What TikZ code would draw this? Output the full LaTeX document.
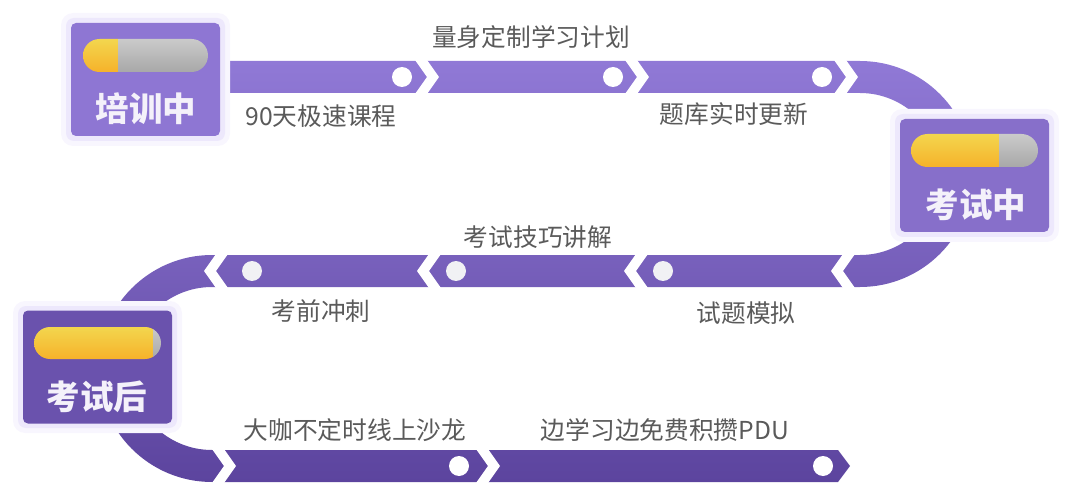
\documentclass[tikz,border=0pt]{standalone}
\usepackage{fontspec}
\newfontfamily\cjk{Noto Sans CJK SC}
\definecolor{trackT}{HTML}{9079D6}
\definecolor{trackB}{HTML}{5C449E}
\definecolor{labelgray}{HTML}{5A5A5A}
\definecolor{titlewhite}{HTML}{F4F1FA}
\definecolor{boxA}{HTML}{8E76D3}
\definecolor{boxB}{HTML}{876FCA}
\definecolor{boxC}{HTML}{6A52AD}
\definecolor{glowA}{HTML}{F8F6FE}
\definecolor{glowB}{HTML}{EDE8FC}
\definecolor{yelT}{HTML}{F3D64E}
\definecolor{yelB}{HTML}{F6B22A}
\definecolor{grayT}{HTML}{CACACA}
\definecolor{grayB}{HTML}{A8A8A8}
\definecolor{dotmid}{HTML}{F1F1F4}
\begin{document}
\begin{tikzpicture}[x=1pt,y=-1pt,
  lbl/.style={font=\cjk\fontsize{24.7}{25}\selectfont, text=labelgray, inner sep=0pt, anchor=center},
  ttl/.style={font=\cjk\bfseries\fontsize{33.5}{34}\selectfont, text=titlewhite, inner sep=0pt, anchor=center},
  dotw/.style={circle, fill=white, minimum size=20pt, inner sep=0pt},
  dotg/.style={circle, fill=dotmid, minimum size=20pt, inner sep=0pt},
  stagebox/.style={rectangle, rounded corners=5pt, inner sep=0pt, minimum width=149pt, minimum height=113pt},
  gap/.style={fill=white},
]
\useasboundingbox (0,0) rectangle (1072,484);
% track
\shade[top color=trackT, bottom color=trackB]
  (223,61) -- (860,61) arc[start angle=-90,end angle=90,radius=113]
  -- (212,287) arc[start angle=-90,end angle=-270,radius=81.5]
  -- (838,450) -- (850,466) -- (838,482)
  -- (212,482) arc[start angle=90,end angle=270,radius=113.5]
  -- (860,255) arc[start angle=90,end angle=-90,radius=81]
  -- (223,93) -- cycle;
% rightward gaps (top row, y 61..93)
\foreach \xa in {415,625,834}{
  \fill[gap] (\xa,60) -- (\xa+12,77) -- (\xa,94) -- (\xa+12,94) -- (\xa+24,77) -- (\xa+12,60) -- cycle;
}
% rightward gaps (bottom row, y 450..482)
\foreach \xa in {212,476}{
  \fill[gap] (\xa,449) -- (\xa+12,466) -- (\xa,483) -- (\xa+12,483) -- (\xa+24,466) -- (\xa+12,449) -- cycle;
}
% leftward gaps (middle row, y 255..287)
\foreach \t in {843,636,429,216}{
  \fill[gap] (\t,254) -- (\t-12,271) -- (\t,288) -- (\t+12,288) -- (\t,271) -- (\t+12,254) -- cycle;
}
% dots
\node[dotw] (d1) at (402,77) {};
\node[dotw] (d2) at (613,77) {};
\node[dotw] (d3) at (822,77) {};
\node[dotg] (d4) at (663,271) {};
\node[dotg] (d5) at (456,271) {};
\node[dotg] (d6) at (252,271) {};
\node[dotw] (d7) at (459,466) {};
\node[dotw] (d8) at (823,466) {};
% labels
\node[lbl] (l1) at (531,37) {量身定制学习计划};
\node[lbl] (l2) at (321,116) {90天极速课程};
\node[lbl] (l3) at (734,114) {题库实时更新};
\node[lbl] (l4) at (538,237) {考试技巧讲解};
\node[lbl] (l5) at (321,311) {考前冲刺};
\node[lbl] (l6) at (746,313) {试题模拟};
\node[lbl] (l7) at (355,430) {大咖不定时线上沙龙};
\node[lbl] (l8) at (665,430) {边学习边免费积攒PDU};
% box 1
\fill[glowA, rounded corners=12pt] (61,13) rectangle (230,146);
\fill[glowB, rounded corners=8pt] (66,18) rectangle (225,141);
\node[stagebox, fill=boxA] (b1) at (145.5,79.5) {};
\begin{scope}
  \clip[rounded corners=16.5pt] (83,39) rectangle (208,72);
  \shade[top color=yelT, bottom color=yelB] (83,39) rectangle (118,72);
  \shade[top color=grayT, bottom color=grayB] (118,39) rectangle (208,72);
\end{scope}
\node[ttl] (t1) at (146,109) {培训中};
% box 2
\fill[glowA, rounded corners=12pt] (890,109) rectangle (1059,242);
\fill[glowB, rounded corners=8pt] (895,114) rectangle (1054,237);
\node[stagebox, fill=boxB] (b2) at (974.5,175.5) {};
\begin{scope}
  \clip[rounded corners=16.5pt] (911,134) rectangle (1038,167);
  \shade[top color=yelT, bottom color=yelB] (911,134) rectangle (999,167);
  \shade[top color=grayT, bottom color=grayB] (999,134) rectangle (1038,167);
\end{scope}
\node[ttl] (t2) at (976,205) {考试中};
% box 3
\fill[glowA, rounded corners=12pt] (13,301) rectangle (182,433);
\fill[glowB, rounded corners=8pt] (18,306) rectangle (177,428);
\node[stagebox, fill=boxC] (b3) at (97.5,367) {};
\begin{scope}
  \clip[rounded corners=16pt] (34,327) rectangle (161,359);
  \shade[top color=yelT, bottom color=yelB] (34,327) rectangle (153,359);
  \shade[top color=grayT, bottom color=grayB] (153,327) rectangle (161,359);
\end{scope}
\node[ttl] (t3) at (97,397) {考试后};
\end{tikzpicture}
\end{document}
